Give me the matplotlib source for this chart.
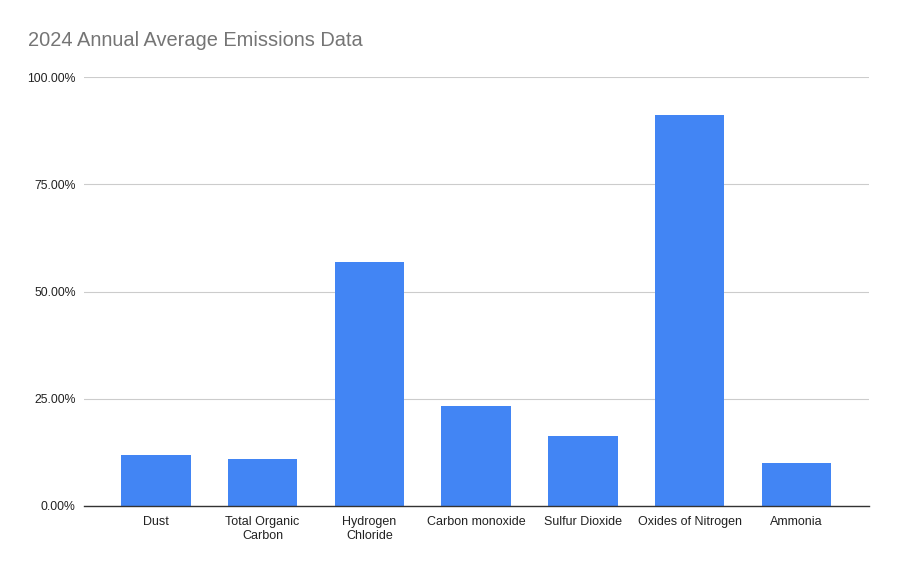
import matplotlib
matplotlib.use("Agg")
import matplotlib.pyplot as plt
from matplotlib.ticker import FuncFormatter

categories = ["Dust", "Total Organic\nCarbon", "Hydrogen\nChloride", "Carbon monoxide",
              "Sulfur Dioxide", "Oxides of Nitrogen", "Ammonia"]
values = [11.9, 11.0, 56.9, 23.3, 16.3, 91.1, 10.0]
yticks = [0, 25, 50, 75, 100]

plt.rcParams['font.family'] = ['Liberation Sans', 'DejaVu Sans']

W, H = 898, 569
fig = plt.figure(figsize=(W / 100, H / 100), dpi=100)
left, right, top, bottom = 84, 869, 77, 506
ax = fig.add_axes([left / W, (H - bottom) / H, (right - left) / W, (bottom - top) / H])

x = list(range(len(categories)))
ax.bar(x, values, width=0.65, color="#4285F4", zorder=3)
ax.set_xlim(-0.673, 6.68)
ax.set_ylim(0, 100)
ax.set_yticks(yticks)
ax.yaxis.set_major_formatter(FuncFormatter(lambda v, p: f"{v:.2f}%"))
ax.set_xticks(x)
ax.set_xticklabels(categories, fontsize=9, color="#222222", linespacing=1.2)
ax.tick_params(axis='y', labelsize=8.8, labelcolor="#222222", length=0, pad=6)
ax.tick_params(axis='x', length=0, pad=7.5)
ax.grid(axis='y', color="#cccccc", linewidth=0.8, zorder=0)
for s in ["top", "right", "left"]:
    ax.spines[s].set_visible(False)
ax.spines["bottom"].set_color("#333333")
ax.spines["bottom"].set_linewidth(1.0)
ax.spines["bottom"].set_zorder(4)

fig.text(28 / W, 1 - 41 / H, "2024 Annual Average Emissions Data", fontsize=14.4,
         color="#757575", ha="left", va="center")

fig.savefig("out.png", dpi=100)
